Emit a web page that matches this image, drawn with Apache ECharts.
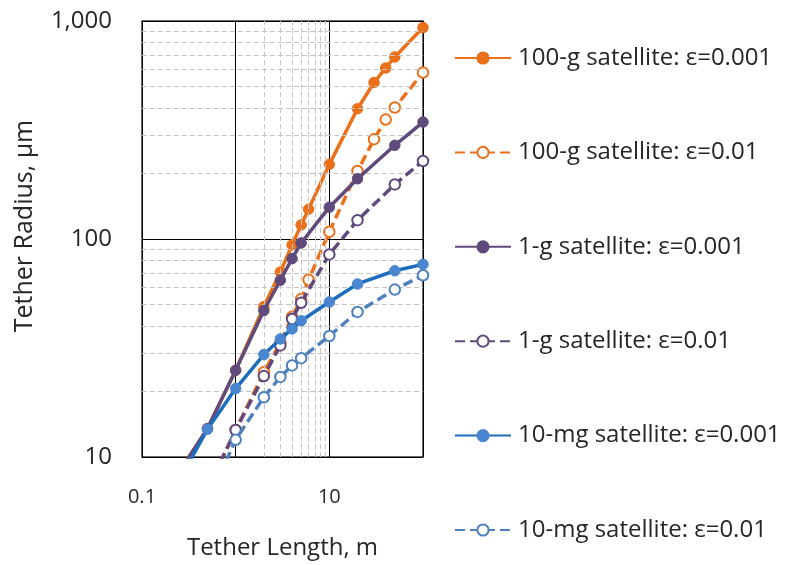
<!DOCTYPE html>
<html>
<head>
<meta charset="utf-8">
<script src="https://cdn.jsdelivr.net/npm/echarts@6/dist/echarts.min.js"></script>
<style>
html,body{margin:0;padding:0;background:#fff;}
#chart{width:790px;height:565px;}
</style>
</head>
<body>
<div id="chart"></div>
<script>
// ---- data (tether length in m, tether radius in µm) ----
const seriesNames = [
  '100-g satellite: ε=0.001',
  '100-g satellite: ε=0.01',
  '1-g satellite: ε=0.001',
  '1-g satellite: ε=0.01',
  '10-mg satellite: ε=0.001',
  '10-mg satellite: ε=0.01'
];
const x100gA = [0.2, 0.5, 1, 2, 3, 4, 5, 6, 10, 20, 30, 40, 50, 100];
const y100gA = [7.4, 13.5, 25, 49, 70.6, 94, 116, 137, 220, 396, 522, 609, 684, 933];
const x100gB = [0.5, 1, 2, 3, 4, 5, 6, 10, 20, 30, 40, 50, 100];
const y100gB = [7.1, 13.3, 24.5, 33.5, 44, 53, 65, 108, 205, 287, 353, 401, 580];
const x1gA = [0.2, 0.5, 1, 2, 3, 4, 5, 10, 20, 50, 100];
const y1gA = [7.4, 13.5, 25, 47, 64.7, 81.3, 95.9, 140, 189, 269, 344];
const x1gB = [0.5, 1, 2, 3, 4, 5, 10, 20, 50, 100];
const y1gB = [7.1, 13.3, 23.5, 32.5, 43, 51, 85, 122, 178, 228];
const x10mgA = [0.2, 0.5, 1, 2, 3, 4, 5, 10, 20, 50, 100];
const y10mgA = [6.6, 13.4, 20.6, 29.5, 34.8, 38.7, 42.2, 51.4, 62.2, 71.5, 76.5];
const x10mgB = [0.5, 1, 2, 3, 4, 5, 10, 20, 50, 100];
const y10mgB = [6.2, 12.0, 18.8, 23.3, 26.3, 28.4, 35.9, 46.3, 58.6, 68.2];

const xTickLabels = ['0.1', '', '10', ''];          // decades 0.1, 1, 10, 100
const yTickLabels = ['10', '100', '1,000'];         // decades 10, 100, 1000
const xMinorGrid = [2, 3, 4, 5, 6, 7, 8, 9];
const yMinorGrid = [20, 30, 40, 50, 60, 70, 80, 90, 200, 300, 400, 500, 600, 700, 800, 900];

// ---- styling ----
const FONT = '"Open Sans", "DejaVu Sans", sans-serif';
const TXT = '#262626';
const ORANGE = '#EA701A', PURPLE = '#5F4A7B', BLUE = '#1C6DBB', BLUE_MK = '#4A86CF', BLUE_L = '#4F81BD';

function pairs(xs, ys) { return xs.map((x, i) => [x, ys[i]]); }
function mkSeries(name, xs, ys, lineColor, markColor, dashed, z) {
  return {
    name: name,
    type: 'line',
    data: pairs(xs, ys),
    z: z,
    clip: true,
    symbol: dashed ? 'emptyCircle' : 'circle',
    symbolSize: 10.5,
    showAllSymbol: true,
    lineStyle: { color: lineColor, width: 3.5, type: dashed ? [10, 5] : 'solid' },
    itemStyle: { color: markColor, borderColor: markColor, borderWidth: dashed ? 1.5 : 1 },
    emphasis: { disabled: true },
    animation: false
  };
}

const chart = echarts.init(document.getElementById('chart'), null, { renderer: 'canvas' });
const option = {
  backgroundColor: '#ffffff',
  textStyle: { fontFamily: FONT },
  grid: { left: 142, top: 21, width: 281, height: 436, show: true, borderColor: '#3a3a3a', borderWidth: 1.5, backgroundColor: 'transparent' },
  xAxis: {
    type: 'log', logBase: 10, min: 0.1, max: 100,
    name: 'Tether Length, m', nameLocation: 'middle', nameGap: 79,
    nameTextStyle: { fontSize: 24, color: TXT, fontFamily: FONT },
    axisLine: { show: false },
    axisTick: { show: false },
    axisLabel: {
      margin: 30, fontSize: 20, color: TXT, fontFamily: FONT,
      formatter: v => xTickLabels[Math.round(Math.log10(v)) + 1] || ''
    },
    splitLine: { show: true, lineStyle: { color: '#000', width: 1 } },
    minorSplitLine: { show: false }
  },
  yAxis: {
    type: 'log', logBase: 10, min: 10, max: 1000,
    name: 'Tether Radius, µm', nameLocation: 'middle', nameGap: 105, nameRotate: 90,
    nameTextStyle: { fontSize: 25, color: TXT, fontFamily: FONT, padding: [0, 0, 0, 26] },
    axisLine: { show: false },
    axisTick: { show: false },
    axisLabel: {
      margin: 30, fontSize: 24, color: TXT, fontFamily: FONT,
      formatter: v => yTickLabels[Math.round(Math.log10(v)) - 1] || ''
    },
    splitLine: { show: true, lineStyle: { color: '#000', width: 1 } }
  },
  legend: {
    data: seriesNames,
    orient: 'vertical',
    left: 449, top: 38,
    itemWidth: 56, itemHeight: 14,
    itemGap: 64.4,
    textStyle: { fontSize: 24, color: TXT, fontFamily: FONT, lineHeight: 30, padding: [0, 0, 0, 2] },
    selectedMode: false
  },
  series: [
    {
      name: 'gridlines', type: 'line', data: [], z: 1, silent: true, animation: false,
      markLine: {
        silent: true, symbol: 'none', animation: false,
        label: { show: false },
        lineStyle: { color: '#c4c4c4', width: 1, type: [5, 3] },
        emphasis: { disabled: true },
        data: yMinorGrid.map(v => ({ yAxis: v })).concat(xMinorGrid.map(v => ({ xAxis: v })))
      }
    },
    mkSeries(seriesNames[0], x100gA, y100gA, ORANGE, ORANGE, false, 3),
    mkSeries(seriesNames[1], x100gB, y100gB, ORANGE, ORANGE, true, 4),
    mkSeries(seriesNames[2], x1gA, y1gA, PURPLE, PURPLE, false, 5),
    mkSeries(seriesNames[3], x1gB, y1gB, PURPLE, PURPLE, true, 6),
    mkSeries(seriesNames[4], x10mgA, y10mgA, BLUE, BLUE_MK, false, 7),
    mkSeries(seriesNames[5], x10mgB, y10mgB, BLUE_L, BLUE_L, true, 8)
  ]
};
chart.setOption(option);
</script>
</body>
</html>
